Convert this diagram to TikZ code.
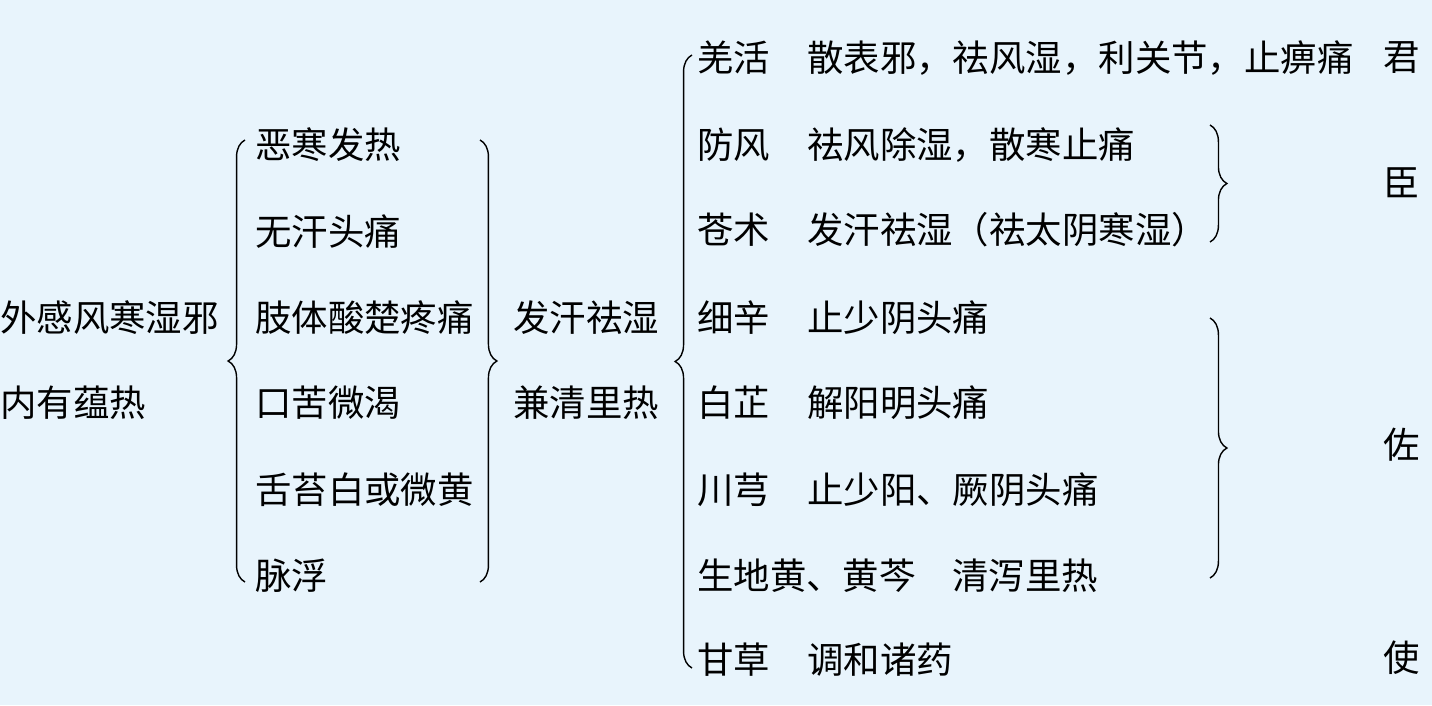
\documentclass[tikz,border=0pt]{standalone}
\usepackage{fontspec}
\setmainfont{Noto Sans CJK SC}
\usetikzlibrary{decorations.pathreplacing,positioning}
\definecolor{paleblue}{RGB}{232, 244, 252}
\begin{document}
\begin{tikzpicture}[
    x=0.025cm, y=-0.025cm,
    txt/.style={anchor=west, inner sep=0pt, font=\fontsize{25.9}{30}\selectfont},
    brc/.style={decorate, decoration={brace, amplitude=12pt, aspect=0.5}, line width=1pt},
  ]
    \fill[paleblue] (0,0) rectangle (1432,705);

    % Cause
    \node[txt] (c1) at (0,318) {外感风寒湿邪};
    \node[txt] (c2) at (0,403) {内有蕴热};

    % Symptoms
    \node[txt] (s1) at (255,145) {恶寒发热};
    \node[txt] (s2) at (255,232) {无汗头痛};
    \node[txt] (s3) at (255,318) {肢体酸楚疼痛};
    \node[txt] (s4) at (255,403) {口苦微渴};
    \node[txt] (s5) at (255,490) {舌苔白或微黄};
    \node[txt] (s6) at (255,576) {脉浮};

    % Method
    \node[txt] (m1) at (513,318) {发汗祛湿};
    \node[txt] (m2) at (513,403) {兼清里热};

    % Herbs
    \node[txt] (h1) at (697,58) {羌活};
    \node[txt] (h2) at (697,145) {防风};
    \node[txt] (h3) at (697,230) {苍术};
    \node[txt] (h4) at (697,318) {细辛};
    \node[txt] (h5) at (697,403) {白芷};
    \node[txt] (h6) at (697,490) {川芎};
    \node[txt] (h7) at (697,576) {生地黄、黄芩};
    \node[txt] (h8) at (697,660) {甘草};

    \node[txt] (d1) at (807,58) {散表邪，祛风湿，利关节，止痹痛};
    \node[txt] (d2) at (807,145) {祛风除湿，散寒止痛};
    \node[txt] (d3) at (807,230) {发汗祛湿（祛太阴寒湿）};
    \node[txt] (d4) at (807,318) {止少阴头痛};
    \node[txt] (d5) at (807,403) {解阳明头痛};
    \node[txt] (d6) at (807,490) {止少阳、厥阴头痛};
    \node[txt] (d7) at (952,576) {清泻里热};
    \node[txt] (d8) at (807,660) {调和诸药};

    % Roles
    \node[txt] (r1) at (1383,58) {君};
    \node[txt] (r2) at (1383,183) {臣};
    \node[txt] (r3) at (1383,445) {佐};
    \node[txt] (r4) at (1383,658) {使};

    % Braces
    \draw[brc] (245,582) -- (245,140);
    \draw[brc] (480,140) -- (480,582);
    \draw[brc] (692,668) -- (692,55);
    \draw[brc] (1210,125) -- (1210,242);
    \draw[brc] (1210,318) -- (1210,578);
\end{tikzpicture}
\end{document}
